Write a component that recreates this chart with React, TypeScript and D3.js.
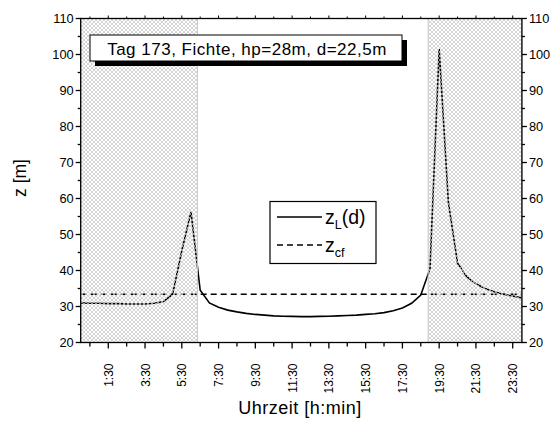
import * as d3 from "d3";

// time of day in hours, sampled every 30 minutes
const hours = d3.range(0, 24.01, 0.5);
const zL = [
  31.0, 30.9, 30.9, 30.8, 30.8, 30.7, 30.7, 30.7, 30.9, 31.4,
  33.4, 45.5, 56.3, 34.5, 31.0, 29.8, 29.0, 28.5, 28.1, 27.8,
  27.6, 27.4, 27.3, 27.25, 27.2, 27.2, 27.25, 27.3, 27.4, 27.5,
  27.6, 27.8, 28.0, 28.3, 28.8, 29.6, 30.9, 33.2, 40.5, 101.5,
  59.0, 42.0, 38.3, 36.3, 35.0, 34.1, 33.4, 32.9, 32.4,
];
const zCf = 33.4;
const nightSpans: [number, number][] = [
  [0, 6.35],
  [18.9, 24],
];
const majorTicks = d3.range(1.5, 24, 2);
const minorTicks = d3.range(0.5, 24, 2);
const tickLabels = majorTicks.map((h) => `${Math.floor(h)}:30`);
const yTicks = d3.range(20, 111, 10);
const yMinor = d3.range(25, 110, 10);

const W = 552;
const H = 421;
const FONT = "'Liberation Sans', Arial, sans-serif";

export default function App() {
  const x = d3.scaleLinear().domain([0, 24]).range([80.7, 521.9]);
  const y = d3.scaleLinear().domain([20, 110]).range([342.5, 18.5]);
  const [x0, x1] = x.range();
  const [y0, y1] = y.range();

  const pts = hours.map((h, i) => ({ h, v: zL[i] }));
  const line = d3
    .line<{ h: number; v: number }>()
    .x((d) => x(d.h))
    .y((d) => y(d.v));

  return (
    <svg
      width={W}
      height={H}
      style={{ position: "absolute", left: 0, top: 0, background: "#fff" }}
      fontFamily={FONT}
    >
      <defs>
        <pattern id="hatch" width="4" height="4" patternUnits="userSpaceOnUse">
          <path d="M0,0 L4,4 M4,0 L0,4" stroke="#c6c6c6" strokeWidth="0.75" />
        </pattern>
        <clipPath id="plot">
          <rect x={x0} y={y1} width={x1 - x0} height={y0 - y1} />
        </clipPath>
      </defs>

      {/* data */}
      <g clipPath="url(#plot)">
        <line
          x1={x(0)}
          x2={x(24)}
          y1={y(zCf)}
          y2={y(zCf)}
          stroke="#000"
          strokeWidth={1.6}
          strokeDasharray="6 4"
        />
        <path d={line(pts) ?? ""} fill="none" stroke="#000" strokeWidth={1.6} />
      </g>

      {/* night hatching drawn over the lines */}
      {nightSpans.map(([a, b], i) => (
        <rect
          key={i}
          x={x(a)}
          y={y1}
          width={x(b) - x(a)}
          height={y0 - y1}
          fill="url(#hatch)"
          stroke="#c8c8c8"
          strokeWidth={1}
        />
      ))}

      {/* frame */}
      <rect x={x0} y={y1} width={x1 - x0} height={y0 - y1} fill="none" stroke="#000" strokeWidth={1.3} />

      {/* bottom and top ticks */}
      {majorTicks.map((h, i) => (
        <g key={"M" + i}>
          <line x1={x(h)} x2={x(h)} y1={y0} y2={y0 + 6} stroke="#000" strokeWidth={1.3} />
          <line x1={x(h)} x2={x(h)} y1={y1} y2={y1 - 3} stroke="#000" strokeWidth={1} />
          <text
            transform={`translate(${x(h) + 4.5},${y0 + 21}) rotate(-90)`}
            textAnchor="end"
            fontSize={12}
          >
            {tickLabels[i]}
          </text>
        </g>
      ))}
      {minorTicks.map((h, i) => (
        <g key={"m" + i}>
          <line x1={x(h)} x2={x(h)} y1={y0} y2={y0 + 4} stroke="#000" strokeWidth={1.3} />
          <line x1={x(h)} x2={x(h)} y1={y1} y2={y1 - 2} stroke="#000" strokeWidth={1} />
        </g>
      ))}

      {/* left and right y axes */}
      {yTicks.map((v) => (
        <g key={"y" + v}>
          <line x1={x0 - 5} x2={x0} y1={y(v)} y2={y(v)} stroke="#000" strokeWidth={1.3} />
          <line x1={x1} x2={x1 + 5} y1={y(v)} y2={y(v)} stroke="#000" strokeWidth={1.3} />
          <text x={x0 - 7} y={y(v) + 4.5} textAnchor="end" fontSize={12.8}>
            {v}
          </text>
          <text x={x1 + 7} y={y(v) + 4.5} textAnchor="start" fontSize={12.8}>
            {v}
          </text>
        </g>
      ))}
      {yMinor.map((v) => (
        <g key={"ym" + v}>
          <line x1={x0 - 3} x2={x0} y1={y(v)} y2={y(v)} stroke="#000" strokeWidth={1.3} />
          <line x1={x1} x2={x1 + 3} y1={y(v)} y2={y(v)} stroke="#000" strokeWidth={1.3} />
        </g>
      ))}

      {/* axis titles */}
      <text transform="translate(26,178) rotate(-90)" textAnchor="middle" fontSize={17.5}>
        z [m]
      </text>
      <text x={300} y={414} textAnchor="middle" fontSize={18} letterSpacing={0.5}>
        Uhrzeit [h:min]
      </text>

      {/* title box */}
      <rect x={95} y={40} width={312} height={26} fill="#000" />
      <rect x={90} y={35} width={312} height={26} fill="#fff" stroke="#000" strokeWidth={1} />
      <text x={247} y={54.5} textAnchor="middle" fontSize={17} letterSpacing={0.5}>
        Tag 173, Fichte, hp=28m, d=22,5m
      </text>

      {/* legend */}
      <rect x={270} y={201.5} width={106} height={62} fill="#fff" stroke="#000" strokeWidth={1.2} />
      <line x1={277} x2={322} y1={217} y2={217} stroke="#000" strokeWidth={1.6} />
      <text x={325} y={224} fontSize={19.5}>
        z<tspan fontSize={12.5} dy={5}>L</tspan>
        <tspan dy={-5}>(d)</tspan>
      </text>
      <line x1={277} x2={322} y1={245} y2={245} stroke="#000" strokeWidth={1.6} strokeDasharray="6 4" />
      <text x={325} y={252} fontSize={19.5}>
        z<tspan fontSize={12.5} dy={5}>cf</tspan>
      </text>
    </svg>
  );
}
